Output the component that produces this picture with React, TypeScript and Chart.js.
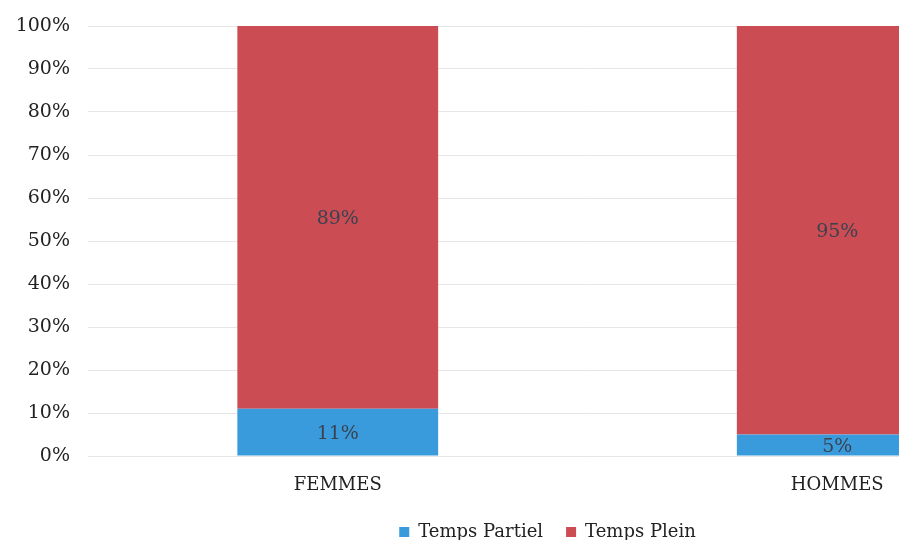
import React, { useEffect, useRef } from "react";
import { Chart, registerables } from "chart.js";

Chart.register(...registerables);

const categories = ["FEMMES", "HOMMES"];
const tempsPartiel = [11, 5];
const tempsPlein = [89, 95];
const yTicks = [0, 10, 20, 30, 40, 50, 60, 70, 80, 90, 100];

const FONT = "'DejaVu Serif', 'Liberation Serif', serif";

const valueLabels = {
  id: "valueLabels",
  afterDatasetsDraw(chart: any) {
    const ctx = chart.ctx;
    ctx.save();
    ctx.font = `19px ${FONT}`;
    ctx.fillStyle = "#3a4250";
    ctx.textAlign = "center";
    ctx.textBaseline = "middle";
    chart.data.datasets.forEach((ds: any, i: number) => {
      const meta = chart.getDatasetMeta(i);
      meta.data.forEach((el: any, j: number) => {
        const p = el.getCenterPoint();
        ctx.fillText(`${ds.data[j]}%`, p.x, p.y + 2);
      });
    });
    ctx.restore();
  },
};

export default function App() {
  const ref = useRef<HTMLCanvasElement>(null);
  useEffect(() => {
    document.documentElement.style.overflow = "hidden";
    if (!ref.current) return;
    const chart = new Chart(ref.current, {
      type: "bar",
      data: {
        labels: categories,
        datasets: [
          {
            label: "Temps Partiel",
            data: tempsPartiel,
            backgroundColor: "rgb(58,155,220)",
            barPercentage: 0.402,
            categoryPercentage: 1,
          },
          {
            label: "Temps Plein",
            data: tempsPlein,
            backgroundColor: "rgb(204,76,84)",
            barPercentage: 0.402,
            categoryPercentage: 1,
          },
        ],
      },
      options: {
        responsive: false,
        animation: false,
        devicePixelRatio: 1,
        layout: { padding: { top: 18, right: 25, left: 0, bottom: 0 } },
        plugins: {
          tooltip: { enabled: false },
          legend: {
            position: "bottom",
            labels: {
              boxWidth: 10,
              boxHeight: 10,
              padding: 23,
              color: "#222",
              font: { family: FONT, size: 18 },
            },
          },
        },
        scales: {
          x: {
            stacked: true,
            grid: { display: false, drawTicks: false },
            border: { display: false },
            ticks: {
              color: "#222",
              padding: 19,
              font: { family: FONT, size: 18 },
            },
            afterFit: (s: any) => {
              s.height = 44;
            },
          },
          y: {
            stacked: true,
            min: 0,
            max: 100,
            afterBuildTicks: (s: any) => {
              s.ticks = yTicks.map((v) => ({ value: v }));
            },
            grid: { color: "#e6e6e6", drawTicks: false, lineWidth: 1 },
            border: { display: false },
            ticks: {
              color: "#222",
              padding: 18,
              font: { family: FONT, size: 19 },
              callback: (v: any) => `${v}%`,
            },
            afterFit: (s: any) => {
              s.width = 80;
              s.paddingTop = 0;
              s.paddingBottom = 0;
            },
          },
        },
      },
      plugins: [valueLabels],
    } as any);
    return () => chart.destroy();
  }, []);
  return (
    <div style={{ width: 899, height: 532, overflow: "hidden" }}>
      <canvas ref={ref} width={1104} height={543} style={{ display: "block" }} />
    </div>
  );
}
